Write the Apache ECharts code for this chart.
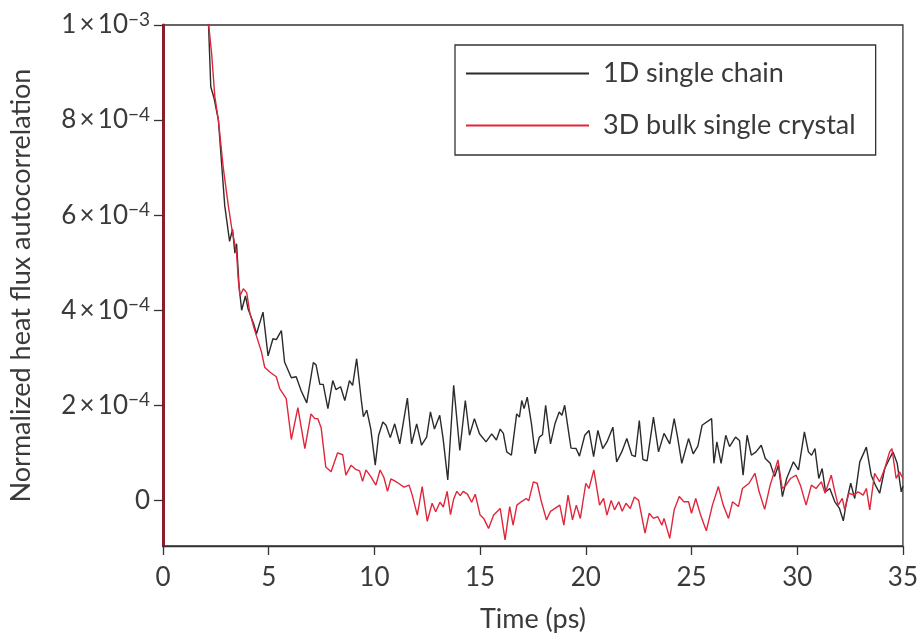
<!DOCTYPE html>
<html>
<head>
<meta charset="utf-8">
<script src="https://cdn.jsdelivr.net/npm/echarts@6/dist/echarts.min.js"></script>
<style>
  html, body { margin: 0; padding: 0; background: #fff; }
  #chart { width: 921px; height: 638px; }
</style>
</head>
<body>
<div id="chart"></div>
<script>
// Values in units of 1e-4 (normalized heat flux autocorrelation); time in ps
const seriesNames = ['1D single chain', '3D bulk single crystal'];

const chain1D = [
  [0,10000],[2.15,10.05],[2.26,8.7],[2.41,8.47],[2.62,8.0],[2.77,7.1],[2.92,6.2],[3.15,5.45],[3.29,5.7],[3.40,5.2],
  [3.48,5.4],[3.60,4.5],[3.72,4.0],[3.80,3.96],[3.90,4.3],[4.03,4.02],[4.30,3.7],[4.42,3.5],[4.73,3.96],[4.97,3.04],
  [5.20,3.4],[5.36,3.38],[5.60,3.57],[5.75,2.91],[6.07,2.58],[6.30,2.6],[6.54,2.3],[6.80,2.05],[7.11,2.9],[7.24,2.85],
  [7.42,2.44],[7.58,2.44],[7.80,1.93],[8.03,2.52],[8.18,2.33],[8.40,2.39],[8.60,2.1],[8.82,2.52],[8.97,2.42],[9.16,2.98],
  [9.39,2.07],[9.48,1.76],[9.64,1.9],[9.83,1.5],[10.04,0.74],[10.20,1.37],[10.40,1.65],[10.55,1.58],[10.75,1.32],[10.96,1.61],
  [11.20,1.19],[11.56,2.15],[11.76,1.19],[12.00,1.61],[12.23,1.16],[12.47,1.33],[12.65,1.86],[12.84,1.5],[13.09,1.79],[13.25,1.3],
  [13.47,0.43],[13.75,2.42],[14.04,1.05],[14.30,2.1],[14.50,1.37],[14.73,1.72],[14.97,1.4],[15.28,1.23],[15.55,1.4],[15.77,1.27],
  [15.95,1.5],[16.10,1.41],[16.26,1.02],[16.48,0.95],[16.73,1.82],[16.86,1.75],[16.97,2.1],[17.08,1.93],[17.23,2.17],[17.43,1.61],
  [17.60,0.98],[17.80,1.33],[17.95,1.38],[18.10,2.0],[18.33,1.19],[18.54,1.61],[18.74,1.86],[18.87,1.79],[19.00,2.0],[19.30,1.1],
  [19.54,1.09],[19.70,0.93],[19.95,1.37],[20.15,1.47],[20.37,0.92],[20.57,1.47],[20.80,1.09],[21.00,1.23],[21.28,1.54],[21.46,0.81],
  [21.70,1.02],[21.94,1.3],[22.18,0.95],[22.34,0.92],[22.53,1.68],[22.70,0.86],[22.90,0.83],[23.20,1.75],[23.44,1.02],[23.70,1.41],
  [23.97,1.19],[24.18,1.72],[24.34,1.33],[24.54,0.78],[24.86,1.3],[25.08,0.98],[25.30,1.14],[25.50,1.58],[25.95,1.72],[26.06,0.78],
  [26.20,1.23],[26.40,0.78],[26.62,1.37],[26.80,1.13],[27.08,1.33],[27.27,1.26],[27.44,0.53],[27.63,1.37],[27.83,0.95],[28.05,1.02],
  [28.30,1.16],[28.49,0.88],[28.72,0.78],[28.93,0.5],[29.11,0.74],[29.30,0.08],[29.50,0.46],[29.82,0.81],[30.06,0.64],[30.34,1.44],
  [30.53,1.02],[30.68,0.95],[30.84,1.09],[31.02,0.46],[31.18,0.67],[31.34,0.18],[31.54,0.25],[31.78,-0.03],[32.00,-0.17],[32.18,-0.43],
  [32.33,-0.03],[32.53,0.36],[32.72,0.04],[32.96,0.81],[33.27,1.12],[33.50,0.53],[33.70,0.32],[33.90,0.15],[34.14,0.67],[34.37,0.88],
  [34.53,1.02],[34.73,0.78],[34.92,0.18],[35.0,0.3]
];

const bulk3D = [
  [0,10000],[2.15,10.05],[2.30,9.4],[2.45,8.5],[2.62,8.0],[2.85,7.0],[3.09,6.2],[3.26,5.7],[3.48,5.2],[3.56,4.65],
  [3.64,4.3],[3.80,4.45],[3.96,4.37],[4.10,3.96],[4.27,3.68],[4.42,3.46],[4.66,3.12],[4.81,2.8],[5.05,2.7],[5.36,2.6],
  [5.52,2.35],[5.83,2.14],[6.07,1.28],[6.38,1.95],[6.71,1.09],[7.00,1.82],[7.18,1.72],[7.32,1.72],[7.48,1.53],[7.70,0.7],
  [7.95,0.6],[8.26,1.0],[8.50,0.96],[8.65,0.53],[8.90,0.74],[9.12,0.65],[9.30,0.62],[9.44,0.4],[9.60,0.64],[9.83,0.5],
  [10.07,0.32],[10.27,0.64],[10.45,0.48],[10.62,0.19],[10.78,0.45],[11.00,0.4],[11.17,0.35],[11.40,0.28],[11.64,0.32],[11.79,0.11],
  [12.03,-0.31],[12.26,0.29],[12.50,-0.44],[12.73,-0.06],[12.90,-0.24],[13.10,-0.04],[13.26,-0.14],[13.44,0.19],[13.60,-0.3],[13.75,0.03],
  [13.90,0.19],[14.06,0.1],[14.20,0.19],[14.40,0.13],[14.60,-0.04],[14.77,0.13],[15.00,-0.31],[15.17,-0.38],[15.40,-0.59],[15.64,-0.31],
  [15.95,-0.17],[16.18,-0.83],[16.40,-0.13],[16.56,-0.52],[16.74,-0.1],[16.94,-0.03],[17.18,0.04],[17.30,-0.01],[17.52,0.39],[17.70,0.36],
  [17.90,-0.03],[18.14,-0.41],[18.33,-0.23],[18.54,-0.17],[18.77,-0.1],[18.96,-0.52],[19.16,0.11],[19.37,-0.41],[19.55,-0.1],[19.74,-0.38],
  [20.00,0.36],[20.15,0.25],[20.38,0.64],[20.65,-0.1],[20.84,0.04],[21.00,-0.31],[21.20,0.0],[21.36,-0.2],[21.56,-0.03],[21.72,-0.23],
  [21.90,-0.06],[22.10,-0.17],[22.30,0.07],[22.50,0.0],[22.80,-0.69],[23.00,-0.27],[23.20,-0.38],[23.40,-0.34],[23.60,-0.52],[23.70,-0.38],
  [23.97,-0.8],[24.18,-0.2],[24.42,0.08],[24.64,-0.03],[24.86,-0.03],[25.00,-0.27],[25.20,0.04],[25.43,-0.31],[25.70,-0.64],[25.99,-0.1],
  [26.27,0.29],[26.50,-0.1],[26.75,-0.38],[26.94,-0.03],[27.22,-0.13],[27.41,0.25],[27.72,0.36],[28.00,0.57],[28.20,0.18],[28.46,-0.19],
  [28.72,0.32],[29.09,0.85],[29.29,0.25],[29.47,0.32],[29.68,0.46],[29.95,0.53],[30.15,0.32],[30.42,-0.1],[30.67,0.32],[30.89,0.25],
  [31.14,0.39],[31.32,0.15],[31.61,0.53],[31.78,0.18],[31.94,-0.1],[32.13,0.04],[32.25,-0.2],[32.44,0.15],[32.70,0.11],[32.88,0.18],
  [33.12,0.11],[33.27,0.25],[33.43,-0.2],[33.66,0.57],[33.90,0.39],[34.14,0.67],[34.37,1.02],[34.48,1.09],[34.68,0.46],[34.84,0.6],
  [35.00,0.46]
];

const yTickValues = [0, 2, 4, 6, 8, 10];
const yTickLabels = [['0', ''], ['2\u2009×\u200910', '−4'], ['4\u2009×\u200910', '−4'], ['6\u2009×\u200910', '−4'], ['8\u2009×\u200910', '−4'], ['1\u2009×\u200910', '−3']];
const xTickValues = [0, 5, 10, 15, 20, 25, 30, 35];

const FONT = 'Lato, "Open Sans", sans-serif';
const TXT = '#3a3a3a';

const chart = echarts.init(document.getElementById('chart'), null, { renderer: 'canvas' });
chart.setOption({
  animation: false,
  backgroundColor: '#fff',
  grid: { left: 161, right: 16, top: 25, bottom: 90, show: true, borderColor: '#333', borderWidth: 1.3, containLabel: false },
  legend: {
    orient: 'vertical', left: 455, top: 45,
    padding: [15, 20, 16, 10],
    borderColor: '#333', borderWidth: 1.3,
    itemWidth: 123, itemHeight: 27, itemGap: 25,
    itemStyle: { opacity: 0 },
    textStyle: { fontFamily: FONT, fontSize: 27, color: TXT, padding: [0, 0, 0, 9] },
    data: seriesNames
  },
  xAxis: {
    type: 'value', min: 0, max: 35, interval: 5,
    name: 'Time (ps)', nameLocation: 'middle', nameGap: 60,
    nameTextStyle: { fontFamily: FONT, fontSize: 27, color: TXT },
    axisLine: { show: true, onZero: false, lineStyle: { color: '#333', width: 1.3 } },
    axisTick: { show: true, inside: false, length: 9, lineStyle: { color: '#333', width: 1.3 } },
    axisLabel: { margin: 19, fontFamily: FONT, fontSize: 26, color: TXT, customValues: xTickValues },
    splitLine: { show: false }
  },
  yAxis: {
    type: 'value', min: -0.96, max: 10,
    name: 'Normalized heat flux autocorrelation', nameLocation: 'middle', nameGap: 128,
    nameTextStyle: { fontFamily: FONT, fontSize: 27, color: TXT },
    axisLine: { show: true, onZero: false, lineStyle: { color: '#8e1c28', width: 3 } },
    axisTick: { show: true, inside: false, length: 9, customValues: yTickValues, lineStyle: { color: '#333', width: 1.3 } },
    axisLabel: {
      margin: 13, customValues: yTickValues,
      formatter: function (v) {
        const i = yTickValues.indexOf(Math.round(v));
        if (i < 0) return '';
        const l = yTickLabels[i];
        return l[1] ? '{n|' + l[0] + '}{s|' + l[1] + '}' : '{n|' + l[0] + '}';
      },
      rich: {
        n: { fontFamily: FONT, fontSize: 26, color: TXT, lineHeight: 30 },
        s: { fontFamily: FONT, fontSize: 19, color: TXT, verticalAlign: 'top', lineHeight: 18 }
      }
    },
    splitLine: { show: false }
  },
  series: [
    {
      name: seriesNames[0], type: 'line', data: chain1D, showSymbol: false, symbol: 'none', clip: true,
      lineStyle: { color: '#2b2b2b', width: 1.4 }, itemStyle: { color: '#2b2b2b' }, z: 2
    },
    {
      name: seriesNames[1], type: 'line', data: bulk3D, showSymbol: false, symbol: 'none', clip: true,
      lineStyle: { color: '#e0263b', width: 1.4 }, itemStyle: { color: '#e0263b' }, z: 3
    }
  ]
});
</script>
</body>
</html>
